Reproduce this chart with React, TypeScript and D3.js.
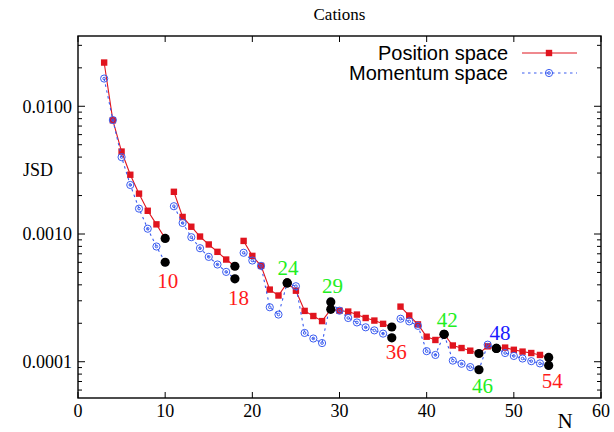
import { useMemo } from "react";
import * as d3 from "d3";

// particle number N
const nValues = [
  3, 4, 5, 6, 7, 8, 9, 10, 11, 12, 13, 14, 15, 16, 17, 18, 19, 20, 21, 22, 23, 24, 25, 26, 27, 28,
  29, 30, 31, 32, 33, 34, 35, 36, 37, 38, 39, 40, 41, 42, 43, 44, 45, 46, 47, 48, 49, 50, 51, 52,
  53, 54,
];

// JSD, position space
const positionSpace = [
  0.022, 0.00777, 0.00442, 0.00291, 0.00207, 0.00152, 0.00119, 0.000923, 0.00214, 0.00136, 0.00114,
  0.000955, 0.000828, 0.000725, 0.000631, 0.000559, 0.000883, 0.000674, 0.000563, 0.000367,
  0.00033, 0.000414, 0.00036, 0.00025, 0.000228, 0.000208, 0.000257, 0.000251, 0.000247, 0.000234,
  0.00022, 0.00021, 0.000198, 0.000187, 0.00027, 0.00023, 0.000196, 0.000157, 0.000148, 0.000164,
  0.000134, 0.000128, 0.000122, 0.000116, 0.000132, 0.000127, 0.000129, 0.000124, 0.00012,
  0.000117, 0.000113, 0.000108,
];

// JSD, momentum space
const momentumSpace = [
  0.01648, 0.0078, 0.004, 0.00242, 0.00158, 0.0011, 0.000798, 0.000601, 0.00165, 0.00122, 0.000944,
  0.000774, 0.000662, 0.000577, 0.000505, 0.000446, 0.000713, 0.00062, 0.000563, 0.000267,
  0.000234, 0.000414, 0.00039, 0.000168, 0.000152, 0.00014, 0.000294, 0.000251, 0.00022, 0.000203,
  0.000186, 0.000176, 0.000166, 0.000154, 0.000217, 0.000207, 0.000191, 0.000121, 0.000113,
  0.000164, 0.000102, 0.0000964, 0.0000908, 0.0000865, 0.000136, 0.000127, 0.000117, 0.000111,
  0.000106, 0.000101, 0.000097, 0.0000935,
];

// curves are broken after these N
const lineBreaks = [10, 18, 36];

// highlighted N (black dots)
const markedN = [10, 18, 24, 29, 36, 42, 46, 48, 54];

// annotations: text, position (N, JSD), colour group
const labelTexts = ["10", "18", "24", "29", "36", "42", "46", "48", "54"];
const labelN = [10.3, 18.4, 24.1, 29.2, 36.5, 42.35, 46.4, 48.4, 54.4];
const labelV = [0.000432, 0.000319, 0.000543, 0.000394, 0.00012, 0.000213, 0.0000649, 0.000168, 0.000071];
const labelGroup = ["red", "red", "green", "green", "red", "green", "green", "blue", "red"];

const xTicks = [0, 10, 20, 30, 40, 50, 60];
const yTicks = [0.0001, 0.001, 0.01];

const W = 614;
const H = 432;
const margin = { left: 78, right: 13, top: 36, bottom: 34 };

const RED = "#e0141e";
const BLUE = "#3a5cf0";
const colors: Record<string, string> = { red: "#ff1a1a", green: "#22ee22", blue: "#1a1aff" };

const serif = "'Liberation Serif', 'DejaVu Serif', serif";
const sans = "'Liberation Sans', Arial, sans-serif";

function segments(values: number[]) {
  const out: [number, number][][] = [];
  let cur: [number, number][] = [];
  nValues.forEach((n, i) => {
    cur.push([n, values[i]]);
    if (lineBreaks.includes(n)) {
      out.push(cur);
      cur = [];
    }
  });
  if (cur.length) out.push(cur);
  return out;
}

export default function App() {
  const x = useMemo(
    () => d3.scaleLinear().domain([0, 60]).range([margin.left, W - margin.right]),
    []
  );
  const y = useMemo(
    () => d3.scaleLog().domain([5.2e-5, 0.0355]).range([H - margin.bottom, margin.top]),
    []
  );
  const line = d3
    .line<[number, number]>()
    .x((d) => x(d[0]))
    .y((d) => y(d[1]));

  const x0 = x(0);
  const x1 = x(60);
  const y0 = y.range()[0];
  const y1 = y.range()[1];

  // log minor ticks 2..9 per decade inside the domain
  const minor: number[] = [];
  [-5, -4, -3, -2].forEach((e) => {
    for (let k = 2; k <= 9; k++) {
      const v = k * Math.pow(10, e);
      if (v > y.domain()[0] && v < y.domain()[1]) minor.push(v);
    }
  });

  return (
    <svg
      width={W}
      height={H}
      style={{ position: "absolute", left: 0, top: 0, background: "#fff" }}
    >
      <rect x={0} y={0} width={W} height={H} fill="#fff" />
      <text x={(x0 + x1) / 2} y={20} textAnchor="middle" fontFamily={serif} fontSize={17}>
        Cations
      </text>

      {/* ticks */}
      <g stroke="#000" strokeWidth={1}>
        {xTicks.map((t) => (
          <g key={"xt" + t}>
            <line x1={x(t)} x2={x(t)} y1={y0} y2={y0 - 6} />
            <line x1={x(t)} x2={x(t)} y1={y1} y2={y1 + 6} />
          </g>
        ))}
        {yTicks.map((t) => (
          <g key={"yt" + t}>
            <line x1={x0} x2={x0 + 7} y1={y(t)} y2={y(t)} />
            <line x1={x1} x2={x1 - 7} y1={y(t)} y2={y(t)} />
          </g>
        ))}
        {minor.map((t) => (
          <g key={"ym" + t}>
            <line x1={x0} x2={x0 + 4} y1={y(t)} y2={y(t)} />
            <line x1={x1} x2={x1 - 4} y1={y(t)} y2={y(t)} />
          </g>
        ))}
      </g>
      <rect
        x={x0}
        y={y1}
        width={x1 - x0}
        height={y0 - y1}
        fill="none"
        stroke="#000"
        strokeWidth={1.4}
      />

      {xTicks.map((t) => (
        <text
          key={"xl" + t}
          x={x(t)}
          y={y0 + 19}
          textAnchor="middle"
          fontFamily={serif}
          fontSize={18}
        >
          {t}
        </text>
      ))}
      {yTicks.map((t) => (
        <text
          key={"yl" + t}
          x={x0 - 6}
          y={y(t)}
          dy="0.35em"
          textAnchor="end"
          fontFamily={serif}
          fontSize={18}
        >
          {t.toFixed(4)}
        </text>
      ))}
      <text x={38} y={170} dy="0.35em" textAnchor="middle" fontFamily={serif} fontSize={18}>
        JSD
      </text>
      <text x={565} y={428} textAnchor="middle" fontFamily={serif} fontSize={21}>
        N
      </text>

      {/* position space */}
      {segments(positionSpace).map((s, i) => (
        <path key={"pl" + i} d={line(s) || ""} fill="none" stroke={RED} strokeWidth={1.1} />
      ))}
      {nValues.map((n, i) => (
        <rect
          key={"pm" + n}
          x={x(n) - 3.2}
          y={y(positionSpace[i]) - 3.2}
          width={6.4}
          height={6.4}
          fill={RED}
        />
      ))}

      {/* momentum space */}
      {segments(momentumSpace).map((s, i) => (
        <path
          key={"ml" + i}
          d={line(s) || ""}
          fill="none"
          stroke={BLUE}
          strokeWidth={1.1}
          strokeDasharray="2.5,3.5"
        />
      ))}
      {nValues.map((n, i) => (
        <g key={"mm" + n} fill="none" stroke={BLUE} strokeWidth={1}>
          <circle cx={x(n)} cy={y(momentumSpace[i])} r={3.6} />
          <circle cx={x(n)} cy={y(momentumSpace[i])} r={1.3} />
        </g>
      ))}

      {/* highlighted points */}
      {markedN.map((n) => {
        const i = nValues.indexOf(n);
        return (
          <g key={"bk" + n} fill="#000">
            <circle cx={x(n)} cy={y(positionSpace[i])} r={4.6} />
            <circle cx={x(n)} cy={y(momentumSpace[i])} r={4.6} />
          </g>
        );
      })}

      {labelTexts.map((t, i) => (
        <text
          key={"lab" + t}
          x={x(labelN[i])}
          y={y(labelV[i])}
          dy="0.35em"
          textAnchor="middle"
          fontFamily={serif}
          fontSize={21}
          fill={colors[labelGroup[i]]}
        >
          {t}
        </text>
      ))}

      {/* legend */}
      <g fontFamily={sans} fontSize={20}>
        <text x={508} y={53} dy="0.35em" textAnchor="end">
          Position space
        </text>
        <line x1={522} x2={577} y1={53} y2={53} stroke={RED} strokeWidth={1.1} />
        <rect x={549 - 3.2} y={53 - 3.2} width={6.4} height={6.4} fill={RED} />
        <text x={508} y={73} dy="0.35em" textAnchor="end">
          Momentum space
        </text>
        <line
          x1={522}
          x2={577}
          y1={73}
          y2={73}
          stroke={BLUE}
          strokeWidth={1.1}
          strokeDasharray="2.5,3.5"
        />
        <circle cx={549} cy={73} r={3.6} fill="none" stroke={BLUE} strokeWidth={1} />
        <circle cx={549} cy={73} r={1.3} fill="none" stroke={BLUE} strokeWidth={1} />
      </g>
    </svg>
  );
}
